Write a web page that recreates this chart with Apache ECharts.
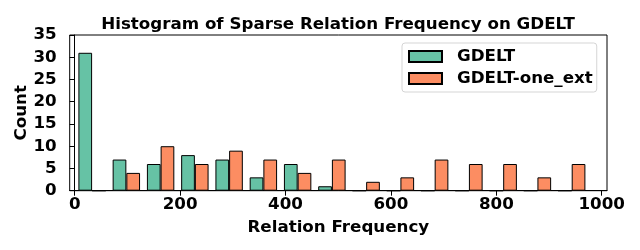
<!DOCTYPE html>
<html><head><meta charset="utf-8">
<script src="https://cdn.jsdelivr.net/npm/echarts@6/dist/echarts.min.js"></script>
<style>html,body{margin:0;padding:0;background:#fff}#c{width:640px;height:250px}</style>
</head><body><div id="c"></div>
<script>
const binCenters = [33, 98, 163, 228, 293, 358, 423, 488, 553, 618, 683, 748, 813, 878, 943];
const gdelt = [31, 7, 6, 8, 7, 3, 6, 1, 0, 0, 0, 0, 0, 0, 0];
const oneExt = [0, 4, 10, 6, 9, 7, 4, 7, 2, 3, 7, 6, 6, 3, 6];
const xTicks = [0, 200, 400, 600, 800, 1000];
const seriesNames = ['GDELT', 'GDELT-one_ext'];
const colors = ['#66c2a5', '#fc8d62'];

const font = 'DejaVu Sans';
const fs = 16.7;
const chart = echarts.init(document.getElementById('c'), null, {renderer: 'canvas'});
chart.setOption({
  animation: false,
  backgroundColor: '#fff',
  title: {
    text: 'Histogram of Sparse Relation Frequency on GDELT',
    left: 333, textAlign: 'center', top: 11,
    textStyle: {fontFamily: font, fontWeight: 'bold', fontSize: 16.7, color: '#000'}
  },
  grid: {left: 69.7, right: 33, top: 35, bottom: 59.3, show: true, borderColor: '#000', borderWidth: 1, backgroundColor: 'transparent', outerBoundsMode: 'none', containLabel: false},
  legend: {
    orient: 'vertical', left: 402, top: 43,
    padding: [5, 4, 5, 6], itemGap: 5, itemWidth: 33, itemHeight: 11,
    icon: 'rect',
    borderColor: '#d5d5d5', borderWidth: 1, borderRadius: 3,
    backgroundColor: 'rgba(255,255,255,0.8)',
    textStyle: {fontFamily: font, fontWeight: 'bold', fontSize: fs, color: '#000', padding: [0, 0, 0, 10]}
  },
  xAxis: {
    type: 'value', min: -9.5, max: 1010,
    name: 'Relation Frequency', nameLocation: 'middle', nameGap: 28, nameMoveOverlap: false,
    nameTextStyle: {fontFamily: font, fontWeight: 'bold', fontSize: fs, color: '#000'},
    axisLine: {show: true, lineStyle: {color: '#000', width: 1}},
    axisTick: {show: true, length: 5, lineStyle: {color: '#000'}, customValues: xTicks},
    axisLabel: {margin: 5, fontFamily: font, fontWeight: 'bold', fontSize: fs, color: '#000', customValues: xTicks, formatter: v => String(v)},
    splitLine: {show: false}
  },
  yAxis: {
    type: 'value', min: 0, max: 35, interval: 5,
    name: 'Count', nameLocation: 'middle', nameGap: 40, nameMoveOverlap: false,
    nameTextStyle: {fontFamily: font, fontWeight: 'bold', fontSize: fs, color: '#000'},
    axisLine: {show: true, lineStyle: {color: '#000', width: 1}},
    axisTick: {show: true, length: 5, lineStyle: {color: '#000'}},
    axisLabel: {margin: 13, fontFamily: font, fontWeight: 'bold', fontSize: fs, color: '#000'},
    splitLine: {show: false}
  },
  series: [gdelt, oneExt].map((vals, k) => ({
    name: seriesNames[k], type: 'bar',
    barGap: '0%', barCategoryGap: '20%',
    itemStyle: {color: colors[k], borderColor: '#000', borderWidth: 1},
    data: binCenters.map((c, i) => [c, vals[i]])
  }))
});
</script></body></html>
